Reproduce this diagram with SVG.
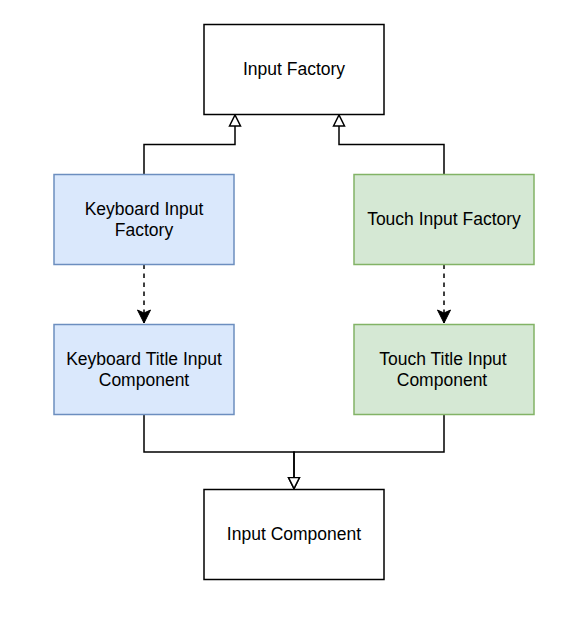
<svg xmlns="http://www.w3.org/2000/svg" width="578" height="618" viewBox="0 0 578 618">
<style>
.box{stroke-width:1.5}
.plain{fill:#ffffff;stroke:#000000}
.blue{fill:#dae8fc;stroke:#6c8ebf}
.green{fill:#d5e8d4;stroke:#82b366}
.lbl{font-family:"Liberation Sans",Arial,sans-serif;font-size:17.5px;fill:#000000;text-anchor:middle}
.edge{fill:none;stroke:#000000;stroke-width:1.5}
.dash{stroke-dasharray:4.5 4.5}
</style>
<defs>
<marker id="tri" markerUnits="userSpaceOnUse" markerWidth="14" markerHeight="14" viewBox="0 0 14 14" refX="12" refY="7" orient="auto">
<path d="M1,1.5 L12,7 L1,12.5 Z" fill="#ffffff" stroke="#000000" stroke-width="1.5"/>
</marker>
<marker id="cls" markerUnits="userSpaceOnUse" markerWidth="16" markerHeight="16" viewBox="0 0 16 16" refX="14" refY="8" orient="auto">
<path d="M1,1.5 L14,8 L1,14.5 L4,8 Z" fill="#000000" stroke="#000000" stroke-width="1"/>
</marker>
</defs>
<g id="connectors">
<path class="edge" d="M144,174.5 V144.5 H235 V115" marker-end="url(#tri)"/>
<path class="edge" d="M444,174.5 V144.5 H339 V115" marker-end="url(#tri)"/>
<path class="edge dash" d="M144,264.5 V323" marker-end="url(#cls)"/>
<path class="edge dash" d="M444,264.5 V323" marker-end="url(#cls)"/>
<path class="edge" d="M144,414.5 V452 H294 V488.5" marker-end="url(#tri)"/>
<path class="edge" d="M444,414.5 V452 H294 V488.5" marker-end="url(#tri)"/>
</g>
<g id="input-factory">
<rect class="box plain" x="204" y="24.5" width="180" height="90"/>
<text class="lbl" x="294" y="75">Input Factory</text>
</g>
<g id="keyboard-input-factory">
<rect class="box blue" x="54" y="174.5" width="180" height="90"/>
<text class="lbl" x="144" y="215">Keyboard Input</text>
<text class="lbl" x="144" y="236">Factory</text>
</g>
<g id="touch-input-factory">
<rect class="box green" x="354" y="174.5" width="180" height="90"/>
<text class="lbl" x="444" y="225">Touch Input Factory</text>
</g>
<g id="keyboard-title-input-component">
<rect class="box blue" x="54" y="324.5" width="180" height="90"/>
<text class="lbl" x="144" y="365">Keyboard Title Input</text>
<text class="lbl" x="144" y="386">Component</text>
</g>
<g id="touch-title-input-component">
<rect class="box green" x="354" y="324.5" width="180" height="90"/>
<text class="lbl" x="443" y="365">Touch Title Input</text>
<text class="lbl" x="442" y="386">Component</text>
</g>
<g id="input-component">
<rect class="box plain" x="204" y="489.5" width="180" height="90"/>
<text class="lbl" x="294" y="540">Input Component</text>
</g>
</svg>
